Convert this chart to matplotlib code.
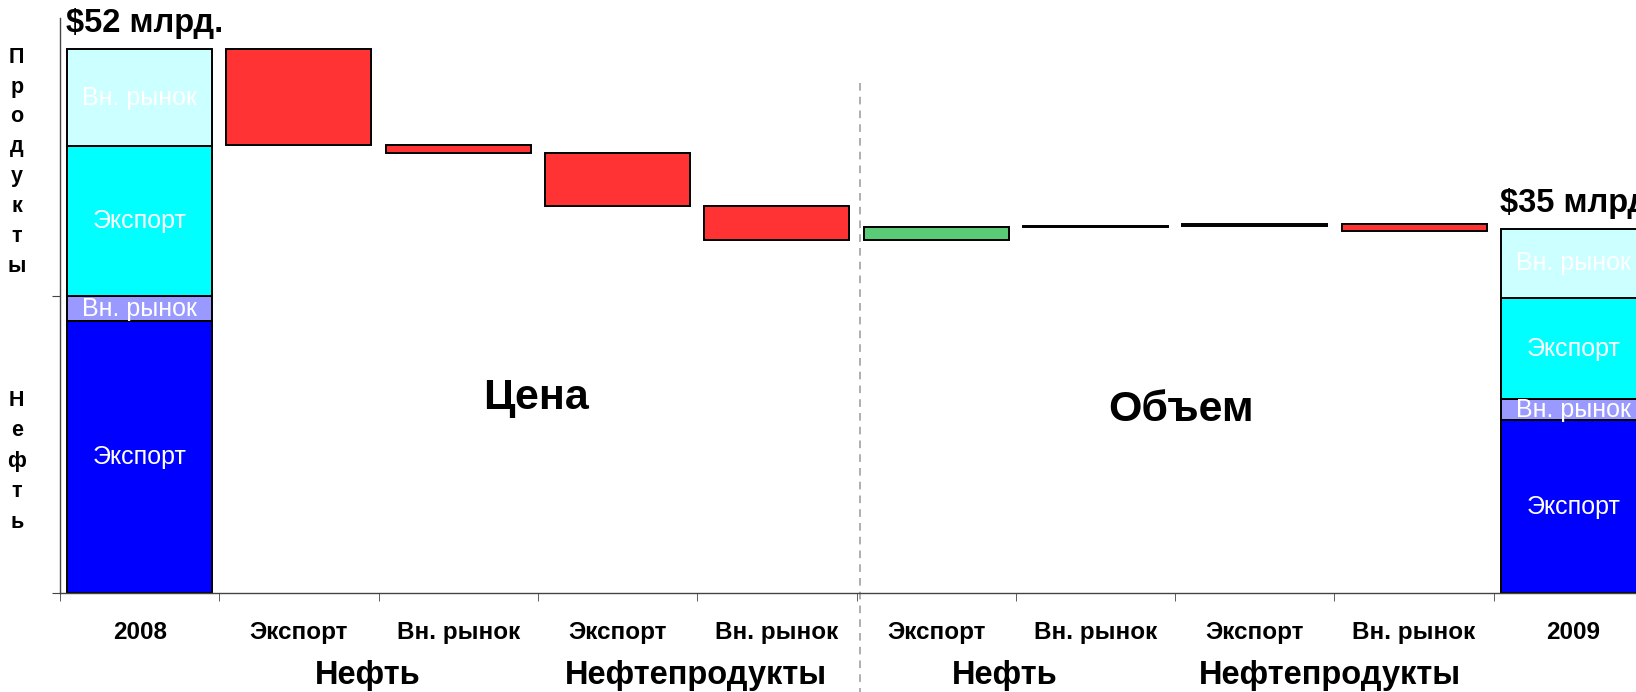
import numpy as np
import matplotlib.pyplot as plt

plt.rcParams['font.family'] = ['Liberation Sans', 'DejaVu Sans']

# bar slots: 2008 total, four price effects, four volume effects, 2009 total
categories = ['2008', 'Экспорт', 'Вн. рынок', 'Экспорт', 'Вн. рынок',
              'Экспорт', 'Вн. рынок', 'Экспорт', 'Вн. рынок', '2009']
groups = ['Нефть', 'Нефтепродукты', 'Нефть', 'Нефтепродукты']
sections = ['Цена', 'Объем']

# stacked segments, bottom to top: oil export, oil domestic, products export, products domestic
segment_names = ['Экспорт', 'Вн. рынок', 'Экспорт', 'Вн. рынок']
segment_colors = ['#0000FF', '#9999FF', '#00FFFF', '#CCFFFF']
revenue_2008 = [26.1, 2.4, 14.4, 9.3]
revenue_2009 = [16.6, 2.0, 9.7, 6.7]
total_labels = ['\\$52 млрд.', '\\$35 млрд.']

# price and volume effects, $ bn
changes = [-9.2, -0.8, -5.0, -3.3, 1.2, 0.1, 0.2, -0.6]

RED = '#FF3333'
GREEN = '#5ACC78'
W, H = 1636, 692

fig = plt.figure(figsize=(W / 100, H / 100), dpi=100)
ax = fig.add_axes([60 / W, 98.7 / H, 1593 / W, 575.3 / H])

x = np.arange(len(categories))
width = 0.91
edge_lw = 1.4

# total bars
for idx, vals, label in ((0, revenue_2008, total_labels[0]),
                         (len(categories) - 1, revenue_2009, total_labels[1])):
    bottom = 0
    for v, c, name in zip(vals, segment_colors, segment_names):
        ax.bar(idx, v, width, bottom=bottom, color=c, edgecolor='black', linewidth=edge_lw)
        ax.text(idx, bottom + v / 2, name, ha='center', va='center',
                color='white', fontsize=18)
        bottom += v
    ax.annotate(label, (idx - width / 2, bottom), xytext=(-1, 17),
                textcoords='offset pixels', ha='left', va='baseline',
                fontsize=23.5, fontweight='bold', annotation_clip=False)

# waterfall of changes
level = sum(revenue_2008)
for i, d in enumerate(changes):
    ax.bar(i + 1, abs(d), width, bottom=min(level, level + d),
           color=GREEN if d > 0 else RED, edgecolor='black', linewidth=edge_lw)
    level += d

# price / volume divider
ax.plot([4.52, 4.52], [49.0, -9.5], ls=(0, (5, 4)), color='#999999',
        lw=1.1, clip_on=False)

ax.text(2.49, 18.75, sections[0], ha='center', va='center', fontsize=31, fontweight='bold')
ax.text(6.54, 17.6, sections[1], ha='center', va='center', fontsize=31, fontweight='bold')

for gx, g in zip([1.43, 3.49, 5.43, 7.47], groups):
    ax.text(gx, -0.143, g, transform=ax.get_xaxis_transform(), ha='center',
            va='center', fontsize=23.5, fontweight='bold')

# axes styling
ax.set_xlim(-0.5, len(categories) - 0.5)
ax.set_ylim(0, 55.2)
for side in ('top', 'right'):
    ax.spines[side].set_visible(False)
for side in ('left', 'bottom'):
    ax.spines[side].set_color('#444444')
    ax.spines[side].set_linewidth(1.0)

ax.set_xticks(x)
ax.set_xticklabels(categories, fontsize=17.5, fontweight='bold')
ax.set_xticks(np.arange(-0.5, len(categories), 1), minor=True)
ax.tick_params(axis='x', which='major', length=0, pad=20)
ax.tick_params(axis='x', which='minor', length=6, color='#444444')
ax.set_yticks([0, revenue_2008[0] + revenue_2008[1]])
ax.set_yticklabels([])
ax.tick_params(axis='y', length=6, color='#444444')

# side captions written letter by letter
for k, ch in enumerate('Продукты'):
    fig.text(16.7 / W, 1 - (57.4 + 29.8 * k) / H, ch, ha='center', va='center',
             fontsize=15.5, fontweight='bold')
for k, ch in enumerate('Нефть'):
    fig.text(16.7 / W, 1 - (400 + 30.5 * k) / H, ch, ha='center', va='center',
             fontsize=15.5, fontweight='bold')

fig.savefig('out.png', dpi=100)
